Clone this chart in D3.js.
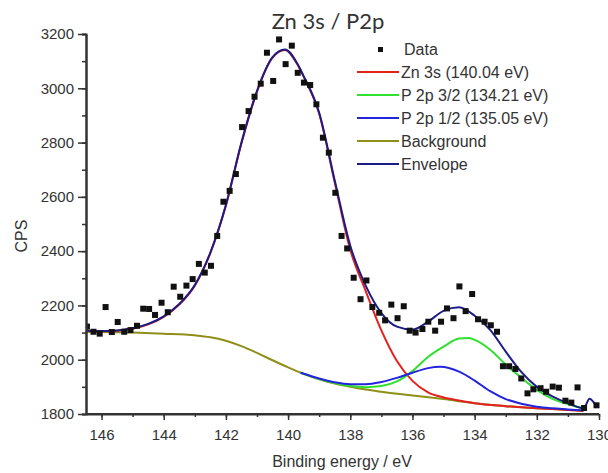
<!DOCTYPE html>
<html>
<head>
<meta charset="utf-8">
<script src="https://cdn.jsdelivr.net/npm/d3@7"></script>
<style>
  body { margin: 0; background: #fff; }
  svg { display: block; }
  text { font-family: "Liberation Sans", Arial, sans-serif; fill: #333; }
</style>
</head>
<body>
<div id="chart"><svg width="608" height="473"></svg></div>
<script>
// measured spectrum, [binding energy eV, counts]
var data = [
  [146.47,2122],[146.26,2103],[146.06,2096],[145.87,2194],[145.67,2102],[145.48,2139],
  [145.27,2103],[145.07,2109],[144.86,2125],[144.66,2188],[144.47,2187],[144.28,2165],
  [144.07,2210],[143.87,2175],[143.68,2269],[143.47,2232],[143.27,2273],[143.07,2297],
  [142.87,2353],[142.68,2321],[142.48,2346],[142.28,2456],[142.08,2582],[141.88,2622],
  [141.68,2684],[141.48,2857],[141.27,2916],[141.08,2969],[140.88,3017],[140.68,3131],
  [140.48,3027],[140.29,3180],[140.08,3089],[139.88,3157],[139.69,3057],[139.49,3021],
  [139.29,3012],[139.09,2941],[138.88,2818],[138.69,2763],[138.48,2615],[138.28,2456],
  [138.10,2410],[137.89,2302],[137.67,2223],[137.48,2292],[137.29,2194],[137.07,2173],
  [136.88,2145],[136.68,2203],[136.48,2153],[136.28,2197],[136.09,2107],[135.90,2100],
  [135.68,2113],[135.49,2140],[135.27,2107],[135.08,2140],[134.89,2189],[134.68,2153],
  [134.49,2270],[134.29,2179],[134.08,2242],[133.89,2149],[133.68,2140],[133.48,2127],
  [133.28,2103],[133.09,1976],[132.89,1976],[132.69,1966],[132.50,1931],[132.30,1876],
  [132.11,1891],[131.88,1895],[131.70,1882],[131.49,1901],[131.29,1897],[131.08,1849],
  [130.89,1842],[130.69,1898],[130.48,1822],[130.08,1832]
];

// fitted curves
var background = [
  [146.5,2103],[146,2102],[145,2100],[144,2096],[143,2090],[142.5,2083],[142,2070],
  [141.5,2050],[141,2025],[140.5,1998],[140,1972],[139.5,1948],[139,1928],[138.5,1912],
  [138,1900],[137.5,1890],[137,1882],[136,1868],[135,1855],[134,1840],[133,1829],
  [132,1821],[131,1815],[130.5,1812]
];
var zn3s = [
  [146.5,2106],[146,2105],[145.5,2107],[145,2114],[144.5,2130],[144,2158],[143.5,2203],
  [143,2273],[142.5,2393],[142,2568],[141.5,2798],[141,2988],[140.5,3113],[140.1,3141],
  [139.7,3088],[139.5,3043],[139,2906],[138.5,2654],[138,2405],[137.5,2252],[137,2108],
  [136.5,1995],[136,1922],[135.5,1880],[135,1861],[134.5,1850],[134,1840],[133,1829],
  [132,1821],[131,1815],[130.5,1812]
];
var p2p32 = [
  [139.6,1952],[139,1929],[138.5,1914],[138,1903],[137.5,1899],[137,1903],[136.5,1920],
  [136,1958],[135.5,2010],[135,2048],[134.5,2078],[134.2,2080],[134,2073],[133.5,2037],
  [133,1982],[132.5,1934],[132,1889],[131.5,1856],[131,1836],[130.5,1821]
];
var p2p12 = [
  [139.6,1952],[139,1931],[138.5,1917],[138,1910],[137.5,1910],[137,1918],[136.5,1933],
  [136,1952],[135.5,1969],[135.1,1974],[134.5,1956],[134,1923],[133.5,1884],[133,1855],
  [132.5,1838],[132,1827],[131.5,1821],[131,1817],[130.5,1813]
];
var envelope = [
  [146.5,2107],[146,2106],[145.5,2108],[145,2116],[144.5,2132],[144,2160],[143.5,2205],
  [143,2275],[142.5,2395],[142,2570],[141.5,2800],[141,2990],[140.5,3115],[140.1,3143],
  [139.7,3090],[139.5,3045],[139,2910],[138.5,2660],[138,2420],[137.5,2272],[137,2172],
  [136.5,2122],[136,2111],[135.5,2140],[135,2180],[134.5,2193],[134,2162],[133.5,2110],
  [133,2030],[132.5,1955],[132,1900],[131.5,1865],[131,1840],[130.5,1821],[130.3,1856],
  [130.1,1830]
];

var xTicks = [146, 144, 142, 140, 138, 136, 134, 132, 130];
var yTicks = [1800, 2000, 2200, 2400, 2600, 2800, 3000, 3200];

var series = [
  {name: 'Zn 3s (140.04 eV)', values: zn3s, color: '#e3221e'},
  {name: 'P 2p 3/2 (134.21 eV)', values: p2p32, color: '#2fe02f'},
  {name: 'P 2p 1/2 (135.05 eV)', values: p2p12, color: '#2424dc'},
  {name: 'Background', values: background, color: '#8f8f18'},
  {name: 'Envelope', values: envelope, color: '#1c1c86'}
];

(function() {
  var svg = d3.select('svg'),
      left = 86, right = 599, top = 34, bottom = 414;

  var x = d3.scaleLinear().domain([146.5, 130]).range([left, right]);
  var y = d3.scaleLinear().domain([1800, 3200]).range([bottom, top]);

  var plot = svg.append('g');
  plot.append('clipPath').attr('id', 'clip')
    .append('rect').attr('x', left).attr('y', 0).attr('width', right - left + 6).attr('height', bottom);

  // axes: major + minor ticks
  var xAxis = svg.append('g').attr('transform', 'translate(0,' + bottom + ')');
  xAxis.call(d3.axisBottom(x).tickValues(d3.range(146, 129.5, -1)).tickSize(3).tickFormat(''));
  xAxis.append('g').call(d3.axisBottom(x).tickValues(xTicks).tickSize(6).tickSizeOuter(0)
    .tickPadding(9).tickFormat(d3.format('d')));
  var yAxis = svg.append('g').attr('transform', 'translate(' + left + ',0)');
  yAxis.call(d3.axisLeft(y).tickValues(d3.range(1800, 3201, 100)).tickSize(4).tickFormat(''));
  yAxis.append('g').call(d3.axisLeft(y).tickValues(yTicks).tickSize(8).tickSizeOuter(0)
    .tickPadding(4).tickFormat(d3.format('d')));

  svg.selectAll('.domain').attr('stroke', '#333').attr('stroke-width', 2);
  svg.selectAll('.tick line').attr('stroke', '#333').attr('stroke-width', 1.5);
  svg.selectAll('.tick text').style('font-size', '15px').attr('fill', '#333')
    .style('font-family', '"Liberation Sans", Arial, sans-serif');
  // x axis ends at 130 but the plot keeps no right border
  xAxis.select('.domain').attr('d', 'M' + left + ',0H' + right);

  var line = d3.line()
    .x(function(d) { return x(d[0]); })
    .y(function(d) { return y(d[1]); })
    .curve(d3.curveMonotoneX);

  var curves = plot.append('g').attr('clip-path', 'url(#clip)');
  [3, 0, 1, 2, 4].forEach(function(i) {
    curves.append('path')
      .datum(series[i].values)
      .attr('d', line)
      .attr('fill', 'none')
      .attr('stroke', series[i].color)
      .attr('stroke-width', 2);
  });

  curves.selectAll('rect.pt').data(data).enter().append('rect')
    .attr('class', 'pt')
    .attr('x', function(d) { return x(d[0]) - 3; })
    .attr('y', function(d) { return y(d[1]) - 3; })
    .attr('width', 6).attr('height', 6)
    .attr('fill', '#111');

  // legend
  var legend = svg.append('g').attr('transform', 'translate(357,49)');
  legend.append('rect').attr('x', 21).attr('y', -2).attr('width', 5).attr('height', 5).attr('fill', '#111');
  legend.append('text').attr('x', 47).attr('y', 6).text('Data').style('font-size', '16px');
  series.forEach(function(s, i) {
    var row = legend.append('g').attr('transform', 'translate(0,' + (23 * (i + 1)) + ')');
    row.append('line').attr('x1', 0).attr('x2', 42).attr('y1', 0).attr('y2', 0)
      .attr('stroke', s.color).attr('stroke-width', 2);
    row.append('text').attr('x', 44).attr('y', 6).text(s.name).style('font-size', '16px');
  });

  // titles
  svg.append('text').attr('x', 328).attr('y', 29).attr('text-anchor', 'middle')
    .style('font-family', 'Lato, "Open Sans", sans-serif').style('font-size', '22px').attr('fill', '#222')
    .text('Zn 3s / P2p');
  svg.append('text').attr('x', 342).attr('y', 467).attr('text-anchor', 'middle')
    .style('font-size', '16px').text('Binding energy / eV');
  svg.append('text').attr('transform', 'translate(27,236) rotate(-90)').attr('text-anchor', 'middle')
    .style('font-size', '16px').text('CPS');
}).call(this);
</script>
</body>
</html>
